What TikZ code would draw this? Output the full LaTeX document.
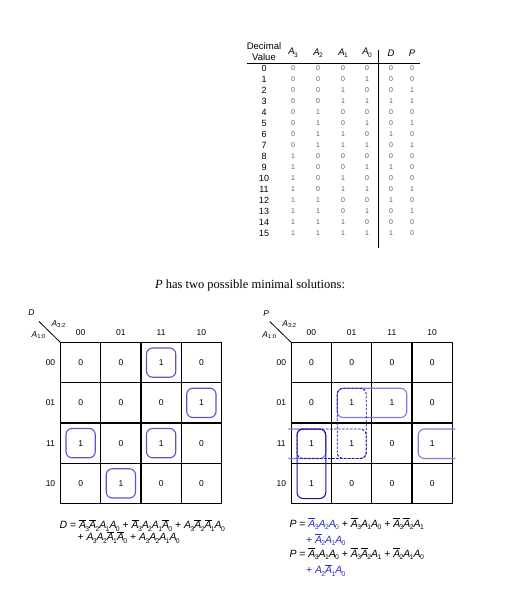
\documentclass[tikz,border=0pt]{standalone}
\usepackage{fontspec}
\setmainfont{Liberation Serif}
\newfontfamily\arialf{Liberation Sans}
\definecolor{navy}{RGB}{20,20,150}
\definecolor{pale}{RGB}{125,125,225}
\definecolor{dbox}{RGB}{85,85,205}
\definecolor{eqblue}{RGB}{45,45,205}
\definecolor{bingray}{RGB}{95,95,95}
\newcommand{\Av}[1]{\textit{A}\kern-0.06em\raisebox{-0.45ex}{\fontsize{6.8}{6.8}\selectfont #1}}
\newcommand{\An}[1]{$\overline{\mbox{\textit{A}}}$\kern-0.06em\raisebox{-0.45ex}{\fontsize{6.8}{6.8}\selectfont #1}}
\newcommand{\Ah}[1]{\textit{A}\kern-0.06em\raisebox{-0.5ex}{\fontsize{6.5}{6.5}\selectfont #1}}
\begin{document}
\begin{tikzpicture}[x=1pt,y=-1pt,
  every node/.style={inner sep=0pt, outer sep=0pt},
  hdr/.style={font=\arialf\fontsize{9.5}{10}\selectfont},
  decv/.style={font=\arialf\fontsize{9}{9}\selectfont},
  binv/.style={font=\arialf\fontsize{7}{7}\selectfont, text=bingray},
  grid/.style={line width=1.1pt},
  cellv/.style={font=\arialf\fontsize{8.5}{8.5}\selectfont},
  lab/.style={font=\arialf\fontsize{8.5}{8.5}\selectfont},
  dcircle/.style={draw=dbox, line width=1.1pt, rounded corners=6pt},
  solidnavy/.style={draw=navy, line width=1pt, rounded corners=6pt},
  dashnavy/.style={draw=navy, line width=0.9pt, dashed, dash pattern=on 2.5pt off 1.5pt, rounded corners=6pt},
  palebox/.style={draw=pale, line width=1.1pt, rounded corners=6pt},
  eq/.style={font=\arialf\fontsize{10.5}{11}\selectfont, anchor=base west}]
\fill[white] (0,0) rectangle (508,589);
\useasboundingbox (0,0) rectangle (508,589);

% ---------------- truth table ----------------
\node[hdr] (hdec1) at (264,46) {Decimal};
\node[hdr] (hdec2) at (264,57.5) {Value};
\node[hdr] (hA3) at (293,53) {\Ah{3}};
\node[hdr] (hA2) at (318,53) {\Ah{2}};
\node[hdr] (hA1) at (343,53) {\Ah{1}};
\node[hdr] (hA0) at (367,53) {\Ah{0}};
\node[hdr] (hD) at (391,53) {\textit{D}};
\node[hdr] (hP) at (412,53) {\textit{P}};
\draw[line width=0.9pt] (247,63.5) -- (420,63.5);
\draw[line width=0.9pt] (378.5,50) -- (378.5,248);
\foreach \n/\a/\b/\c/\d/\dd/\p [count=\i from 0] in
 {0/0/0/0/0/0/0, 1/0/0/0/1/0/0, 2/0/0/1/0/0/1, 3/0/0/1/1/1/1,
  4/0/1/0/0/0/0, 5/0/1/0/1/0/1, 6/0/1/1/0/1/0, 7/0/1/1/1/0/1,
  8/1/0/0/0/0/0, 9/1/0/0/1/1/0, 10/1/0/1/0/0/0, 11/1/0/1/1/0/1,
  12/1/1/0/0/1/0, 13/1/1/0/1/0/1, 14/1/1/1/0/0/0, 15/1/1/1/1/1/0}{
  \node[decv] (dec\i) at (264,{68+11*\i}) {\n};
  \node[binv] (ba\i) at (293,{68+11*\i}) {\a};
  \node[binv] (bb\i) at (318,{68+11*\i}) {\b};
  \node[binv] (bc\i) at (343,{68+11*\i}) {\c};
  \node[binv] (bd\i) at (367,{68+11*\i}) {\d};
  \node[binv] (bD\i) at (391,{68+11*\i}) {\dd};
  \node[binv] (bP\i) at (412,{68+11*\i}) {\p};
}

% ---------------- title ----------------
\node[font=\fontsize{12.5}{13}\selectfont] (title) at (250,285) {\textit{P} has two possible minimal solutions:};

% ---------------- K-map D ----------------
\begin{scope}[shift={(60.5,342.5)}]
  \draw[grid] (0,0) rectangle (161,161);
  \foreach \k in {1,2,3}{
    \draw[grid] ({40.25*\k},0) -- ({40.25*\k},161);
    \draw[grid] (0,{40.25*\k}) -- (161,{40.25*\k});
  }
  \draw[line width=0.8pt] (-21.5,-21) -- (0,0);
  \node[lab] (dname) at (-29,-30) {\textit{D}};
  \node[lab] (dcol) at (-2,-18.5) {\textit{A}\raisebox{-0.4ex}{\fontsize{5.8}{5.8}\selectfont 3:2}};
  \node[lab] (drow) at (-22,-7.5) {\textit{A}\raisebox{-0.4ex}{\fontsize{5.8}{5.8}\selectfont 1:0}};
  \foreach \t [count=\k from 0] in {00,01,11,10}{
    \node[lab] (dc\k) at ({20.125+40.25*\k},-9.5) {\t};
    \node[lab] (dr\k) at (-10,{20.125+40.25*\k}) {\t};
  }
  \foreach \r/\vals in {0/{0,0,1,0},1/{0,0,0,1},2/{1,0,1,0},3/{0,1,0,0}}{
    \foreach \v [count=\c from 0] in \vals
      \node[cellv] (dv\r\c) at ({20.125+40.25*\c},{20.125+40.25*\r}) {\v};
  }
  \foreach \c/\r in {2/0,3/1,0/2,2/2,1/3}
    \draw[dcircle] ({40.25*\c+5.5},{40.25*\r+5.5}) rectangle +(29.25,29.25);
\end{scope}
\node[eq] (deq1) at (59.5,528.5) {\textit{D} = \An3\An2\Av1\Av0 + \An3\Av2\Av1\An0 + \Av3\An2\An1\Av0};
\node[eq] (deq2) at (77.5,540.5) {+ \Av3\Av2\An1\An0 + \Av3\Av2\Av1\Av0};

% ---------------- K-map P ----------------
\begin{scope}[shift={(291.25,342.5)}]
  \draw[grid] (0,0) rectangle (161,161);
  \foreach \k in {1,2,3}{
    \draw[grid] ({40.25*\k},0) -- ({40.25*\k},161);
    \draw[grid] (0,{40.25*\k}) -- (161,{40.25*\k});
  }
  \draw[line width=0.8pt] (-21.5,-21) -- (0,0);
  \node[lab] (pname) at (-25,-28.5) {\textit{P}};
  \node[lab] (pcol) at (-2,-18.5) {\textit{A}\raisebox{-0.4ex}{\fontsize{5.8}{5.8}\selectfont 3:2}};
  \node[lab] (prow) at (-22,-7.5) {\textit{A}\raisebox{-0.4ex}{\fontsize{5.8}{5.8}\selectfont 1:0}};
  \foreach \t [count=\k from 0] in {00,01,11,10}{
    \node[lab] (pc\k) at ({20.125+40.25*\k},-9.5) {\t};
    \node[lab] (pr\k) at (-10,{20.125+40.25*\k}) {\t};
  }
  \foreach \r/\vals in {0/{0,0,0,0},1/{0,1,1,0},2/{1,1,0,1},3/{1,0,0,0}}{
    \foreach \v [count=\c from 0] in \vals
      \node[cellv] (pv\r\c) at ({20.125+40.25*\c},{20.125+40.25*\r}) {\v};
  }
  \draw[palebox] (46,45.75) rectangle (115.5,75);
  \draw[palebox] (164,86.5) -- (127,86.5) -- (127,116) -- (164,116);
  \draw[palebox] (-3,86.5) -- (34.5,86.5) -- (34.5,116) -- (-3,116);
  \draw[solidnavy] (5.75,86.5) rectangle (34.5,156);
  \draw[dashnavy] (46,45.75) rectangle (75,116);
  \draw[dashnavy] (5.75,86.5) rectangle (75,116);
\end{scope}
\node[eq] (peq1) at (289.5,527) {\textit{P} = \textcolor{eqblue}{\An3\Av2\Av0} + \An3\Av1\Av0 + \An3\An2\Av1};
\node[eq, text=eqblue] (peq2) at (306,543) {+ \An2\Av1\Av0};
\node[eq] (peq3) at (289.5,557) {\textit{P} = \An3\Av1\Av0 + \An3\An2\Av1 + \An2\Av1\Av0};
\node[eq, text=eqblue] (peq4) at (306,573.5) {+ \Av2\An1\Av0};
\end{tikzpicture}
\end{document}
